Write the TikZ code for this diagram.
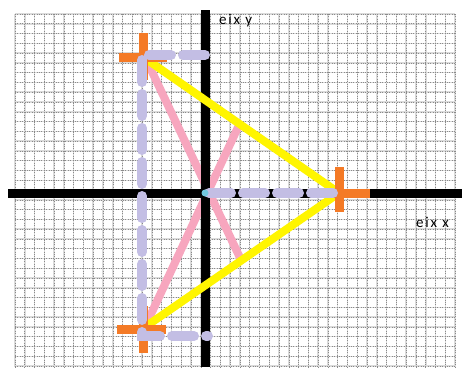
\documentclass[tikz,border=0pt]{standalone}
\usepackage{fontspec}
\newfontfamily\lblfont[LetterSpace=12]{Carlito}
\definecolor{gridc}{HTML}{8A8A8A}
\definecolor{gridl}{HTML}{DADADA}
\definecolor{yel}{HTML}{FFF500}
\definecolor{pinkc}{HTML}{F7A6BE}
\definecolor{lav}{HTML}{C3BEE4}
\definecolor{orng}{HTML}{F47A26}
\definecolor{dotc}{HTML}{72C6DE}
\tikzset{
  gridsolid/.style={gridl, line width=1.5pt},
  gridline/.style={gridc, line width=0.6pt, dash pattern=on 0.8pt off 1.6pt},
  axisline/.style={black, line width=9pt},
  median/.style={pinkc, line width=8pt},
  edge/.style={yel, line width=8pt},
  crossarm/.style={orng, line width=9pt},
  guide/.style={lav, line width=10pt, line cap=round, dash pattern=on 22pt off 12pt},
  lbl/.style={font=\lblfont\fontsize{15}{17}\selectfont, inner sep=0pt, text=black}
}
\begin{document}
\begin{tikzpicture}[x=1pt,y=-1pt]
\useasboundingbox (0,0) rectangle (462,367);
\fill[white] (0,0) rectangle (462,367);
% grid
\foreach \i in {0,...,45} \draw[gridsolid] ({15+\i*9.78},14) -- ({15+\i*9.78},367);
\foreach \j in {0,...,36} \draw[gridsolid] (15,{14+\j*9.78}) -- (455,{14+\j*9.78});
\foreach \i in {0,...,45} \draw[gridline] ({15+\i*9.78},14) -- ({15+\i*9.78},367);
\foreach \j in {0,...,36} \draw[gridline] (15,{14+\j*9.78}) -- (455,{14+\j*9.78});
% key points
\coordinate (O) at (205,193);
\coordinate (A) at (146,59);
\coordinate (B) at (145,327);
\coordinate (C) at (339,193);
\coordinate (mAC) at (240,123);
\coordinate (mBC) at (242,262);
\coordinate (Atop) at (205,55);
\coordinate (Acorner) at (142,55);
\coordinate (Bcorner) at (142,336);
\coordinate (Bright) at (208,336);
\coordinate (Cend) at (343,193);
\coordinate (Ostart) at (209,193);
% medians
\draw[median] (A) -- (mBC);
\draw[median] (B) -- (mAC);
% axes
\draw[axisline] (8,193) -- (462,193);
\draw[axisline] (205,10) -- (205,367);
% triangle edges
\draw[edge] (A) -- (C) -- (B);
% orange crosses
\draw[crossarm] (119,57) -- (167,57) (143,33) -- (143,80);
\draw[crossarm] (117,329) -- (166,329) (143,306) -- (143,353);
\draw[crossarm] (315,193) -- (370,193) (339,167) -- (339,212);
% lavender dashed guides
\draw[guide] (Atop) -- (Acorner) -- (Bcorner) -- (Bright);
\draw[guide] (Ostart) -- (Cend);
% origin dot
\fill[dotc] (O) circle (3.5pt);
% labels
\node[lbl, anchor=base west] (ly) at (219,24) {eix y};
\node[lbl, anchor=base west] (lx) at (416,227) {eix x};
\end{tikzpicture}
\end{document}
